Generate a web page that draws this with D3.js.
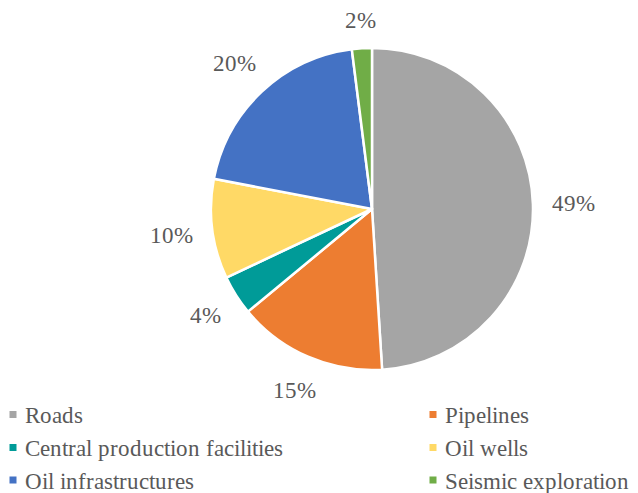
<!DOCTYPE html>
<html>
<head>
<meta charset="utf-8">
<script src="https://cdn.jsdelivr.net/npm/d3@7"></script>
<style>
  @font-face {
    font-family: "ChartSerif";
    src: local("Liberation Serif"), local("LiberationSerif"), local("LiberationSerif-Regular"),
         local("Times New Roman"), local("DejaVu Serif"), local("DejaVuSerif");
  }
  html, body { margin: 0; padding: 0; background: #fff; }
  svg { display: block; }
  svg text { font-family: "ChartSerif", "Liberation Serif", "DejaVu Serif", serif; }
</style>
</head>
<body>
<svg id="chart" width="638" height="493"></svg>
<script>
// Share of disturbance by source (percent)
const categories = ["Roads", "Pipelines", "Central production facilities", "Oil wells", "Oil infrastructures", "Seismic exploration"];
const values = [49, 15, 4, 10, 20, 2];
const colors = ["#A5A5A5", "#ED7D31", "#009B98", "#FFD966", "#4472C4", "#70AD47"];
const valueLabels = ["49%", "15%", "4%", "10%", "20%", "2%"];

const TEXT_COLOR = "#595959";

const svg = d3.select("#chart");
const cx = 372, cy = 209, r = 161;

const data = categories.map((c, i) => ({ name: c, value: values[i], color: colors[i], label: valueLabels[i] }));

const pie = d3.pie().value(d => d.value).sort(null);
const arcs = pie(data);
const arc = d3.arc().innerRadius(0).outerRadius(r);

const g = svg.append("g").attr("transform", `translate(${cx},${cy})`);

g.selectAll("path.slice")
  .data(arcs)
  .join("path")
  .attr("class", "slice")
  .attr("d", arc)
  .attr("fill", d => d.data.color)
  .attr("stroke", "#fff")
  .attr("stroke-width", 2.5)
  .attr("stroke-linejoin", "round");

// Percent labels sit outside the rim: the label box is pushed out along the
// slice's mid-angle until it clears the edge by a fixed gap.
const gap = 19;
const labels = g.selectAll("text.pct")
  .data(arcs)
  .join("text")
  .attr("class", "pct")
  .attr("text-anchor", "middle")
  .attr("fill", TEXT_COLOR)
  .style("font-size", "23px")
  .text(d => d.data.label);

labels.each(function(d) {
  const w = this.getComputedTextLength() / 2;
  const h = 8.5;
  const a = (d.startAngle + d.endAngle) / 2;
  const ux = Math.sin(a), uy = -Math.cos(a);
  const dist = r + gap + Math.abs(ux) * w + Math.abs(uy) * h;
  d3.select(this)
    .attr("x", ux * dist)
    .attr("y", uy * dist + h);
});

// Legend: two columns, three rows
const legend = svg.append("g");
const colX = [9.5, 429.5];
const rowBase = [423, 456, 488.5];
const items = legend.selectAll("g.item")
  .data(data)
  .join("g")
  .attr("class", "item")
  .attr("transform", (d, i) => `translate(${colX[i % 2]},${rowBase[Math.floor(i / 2)]})`);

items.append("rect")
  .attr("x", 0).attr("y", -12)
  .attr("width", 7).attr("height", 7)
  .attr("fill", d => d.color);

items.append("text")
  .attr("x", 15.5).attr("y", 0)
  .attr("fill", TEXT_COLOR)
  .style("font-size", "23.3px")
  .text(d => d.name);
</script>
</body>
</html>
